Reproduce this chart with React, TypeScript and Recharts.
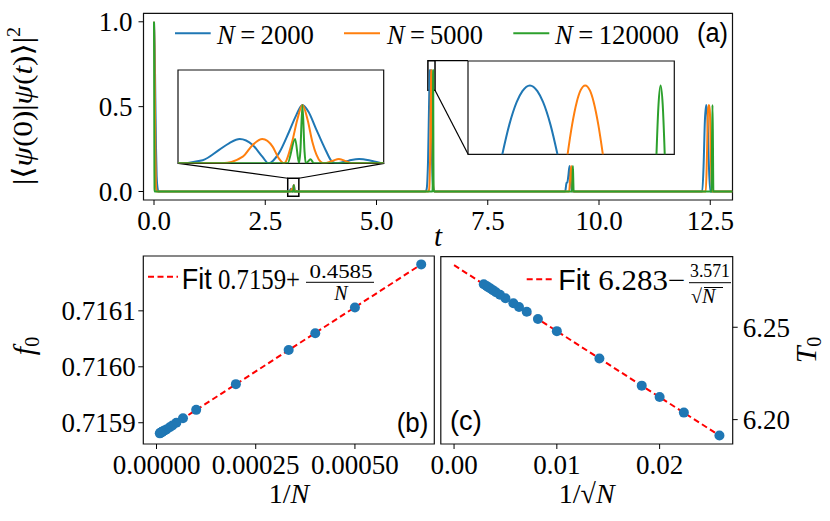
import { ComposedChart, Line, Scatter, XAxis, YAxis, ReferenceArea, ReferenceLine } from 'recharts'

// |<psi(0)|psi(t)>|^2, [t, value]
const n2000Curve: [number, number][] = [
  [0, 1], [0.015, 0.86], [0.03, 0.55], [0.045, 0.26], [0.06, 0.09], [0.08, 0.02], [0.1, 0],
  [3.02, 0], [3.044, 0.002], [3.06, 0.0086], [3.07, 0.013], [3.08, 0.0156], [3.0926, 0.0118],
  [3.102, 0.0043], [3.108, 0], [3.118, 0.0064], [3.128, 0.0203], [3.135, 0.031], [3.141, 0.0375],
  [3.147, 0.033], [3.154, 0.0225], [3.1635, 0.0086], [3.17, 0.001], [3.175, 0], [3.186, 0.0017],
  [3.196, 0.0028], [3.209, 0.0015], [3.22, 0],
  [6.1, 0], [6.123, 0.01], [6.143, 0.065], [6.158, 0.18], [6.173, 0.39], [6.1883, 0.62],
  [6.192, 0.661], [6.196, 0.693], [6.199, 0.708], [6.203, 0.716], [6.207, 0.708], [6.21, 0.693],
  [6.214, 0.661], [6.2177, 0.62], [6.233, 0.39], [6.248, 0.18], [6.263, 0.065], [6.283, 0.01], [6.306, 0],
  [9.24, 0], [9.27, 0.05], [9.29, 0.055], [9.31, 0.09], [9.338, 0.15], [9.36, 0.08], [9.385, 0.01], [9.4, 0],
  [12.32, 0], [12.35, 0.15], [12.38, 0.42], [12.41, 0.51], [12.44, 0.42], [12.47, 0.15], [12.5, 0],
  [13, 0],
]

const n5000Curve: [number, number][] = [
  [0, 1], [0.01, 0.86], [0.02, 0.52], [0.03, 0.24], [0.04, 0.07], [0.05, 0.015], [0.065, 0],
  [3.063, 0], [3.083, 0.0043], [3.0926, 0.0118], [3.102, 0.0156], [3.112, 0.0107], [3.118, 0.0032],
  [3.123, 0], [3.131, 0.0139], [3.136, 0.028], [3.141, 0.0375], [3.146, 0.028], [3.1506, 0.0139],
  [3.1587, 0.001], [3.162, 0], [3.17, 0.0015], [3.1765, 0.0028], [3.1845, 0.001], [3.189, 0],
  [6.165, 0], [6.1825, 0.01], [6.1945, 0.068], [6.2035, 0.18], [6.2135, 0.4], [6.2231, 0.62],
  [6.2255, 0.661], [6.228, 0.693], [6.23, 0.709], [6.2325, 0.716], [6.235, 0.709], [6.237, 0.693],
  [6.2395, 0.661], [6.2419, 0.62], [6.2515, 0.4], [6.2615, 0.18], [6.2705, 0.068], [6.2825, 0.01], [6.3, 0],
  [9.33, 0], [9.35, 0.07], [9.376, 0.15], [9.395, 0.07], [9.415, 0],
  [12.4, 0], [12.425, 0.2], [12.45, 0.48], [12.47, 0.51], [12.49, 0.48], [12.515, 0.2], [12.54, 0],
  [13, 0],
]

const n120000Curve: [number, number][] = [
  [0, 1], [0.003, 0.82], [0.006, 0.42], [0.009, 0.12], [0.012, 0.02], [0.016, 0],
  [3.1265, 0], [3.1339, 0.0156], [3.1377, 0], [3.139, 0.008], [3.141, 0.0375], [3.143, 0.008],
  [3.1442, 0], [3.149, 0.0026], [3.152, 0],
  [6.2567, 0], [6.2607, 0.01], [6.2637, 0.065], [6.2657, 0.17], [6.2682, 0.39], [6.2705, 0.62],
  [6.2716, 0.69], [6.2727, 0.716], [6.2738, 0.69], [6.2749, 0.62], [6.2772, 0.39], [6.2797, 0.17],
  [6.2817, 0.065], [6.2847, 0.01], [6.2887, 0],
  [9.395, 0], [9.405, 0.08], [9.413, 0.15], [9.421, 0.08], [9.43, 0],
  [12.53, 0], [12.54, 0.3], [12.55, 0.51], [12.56, 0.3], [12.57, 0],
  [13, 0],
]

const tTicks = [0, 2.5, 5, 7.5, 10, 12.5]
const fidTicks = [0, 0.5, 1]

// panel (b) and (c) data, N = 1500 ... 120000
const invN = [0.000667, 0.0005, 0.0004, 0.000333, 0.0002, 0.0001, 0.0000667, 0.00005, 0.00004,
  0.0000333, 0.000025, 0.00002, 0.0000167, 0.0000143, 0.0000125, 0.0000111, 0.00001, 0.0000083]
const f0Values = [0.716183, 0.716106, 0.71606, 0.71603, 0.715969, 0.715923, 0.715908, 0.7159, 0.715895,
  0.715892, 0.715888, 0.715886, 0.715885, 0.715884, 0.715883, 0.715882, 0.715882, 0.715881]
const invSqrtN = [0.02582, 0.02236, 0.02, 0.01826, 0.01414, 0.01, 0.00816, 0.00707, 0.00632,
  0.00577, 0.005, 0.00447, 0.00408, 0.00378, 0.00354, 0.00333, 0.00316, 0.00289]
const t0Values = [6.1914, 6.2038, 6.2122, 6.2184, 6.2331, 6.2479, 6.2545, 6.2584, 6.261,
  6.263, 6.2657, 6.2676, 6.269, 6.2701, 6.271, 6.2717, 6.2723, 6.2733]
const fitBX = [0, 0.000667]
const fitBY = [0.715877, 0.716183]
const fitCX = [0, 0.02582]
const fitCY = [6.2836, 6.1914]

const bTicksX = [0, 0.00025, 0.0005]
const bTicksY = [0.7159, 0.716, 0.7161]
const cTicksX = [0, 0.01, 0.02]
const cTicksY = [6.2, 6.25]

const SERIF = "'Liberation Serif', 'DejaVu Serif', serif"
const SANS = "'Liberation Sans', 'DejaVu Sans', sans-serif"
const BLUE = '#1f77b4'
const ORANGE = '#ff7f0e'
const GREEN = '#2ca02c'

const series = [
  { name: 'N2000', curve: n2000Curve, color: BLUE },
  { name: 'N5000', curve: n5000Curve, color: ORANGE },
  { name: 'N120000', curve: n120000Curve, color: GREEN },
]

const toPts = (c: [number, number][]) => c.map(([t, v]) => ({ t, v }))
const zipXY = (xs: number[], ys: number[]) => xs.map((x, i) => ({ x, y: ys[i] }))

const tickFont = { fontFamily: SERIF, fontSize: 27, fill: '#000' }
const tickLine = { stroke: '#000', strokeWidth: 1 }
const frame = { fill: 'none', stroke: '#111', strokeWidth: 1.2, fillOpacity: 0 }

const tDomain = [-0.236, 13.0]
const fidDomain = [-0.05, 1.05]

function MainPanel() {
  return (
    <div style={{ position: 'absolute', left: 0, top: 0 }}>
      <ComposedChart width={830} height={250} margin={{ top: 13.3, right: 97.5, bottom: 20, left: 83.5 }}>
        <XAxis type="number" dataKey="t" domain={tDomain} ticks={tTicks} allowDataOverflow interval={0}
          height={30} axisLine={false} tickLine={tickLine} tickSize={5} tickMargin={6} tick={tickFont}
          tickFormatter={(v: number) => v.toFixed(1)} />
        <YAxis type="number" domain={fidDomain} ticks={fidTicks} allowDataOverflow interval={0}
          width={60} axisLine={false} tickLine={tickLine} tickSize={5} tickMargin={6} tick={tickFont}
          tickFormatter={(v: number) => v.toFixed(1)} />
        <ReferenceArea x1={tDomain[0]} x2={tDomain[1]} y1={fidDomain[0]} y2={fidDomain[1]} {...frame} />
        {series.map((s) => (
          <Line key={s.name} data={toPts(s.curve)} dataKey="v" type="monotone" stroke={s.color}
            strokeWidth={2} dot={false} isAnimationActive={false} />
        ))}
        <ReferenceArea x1={3.005} x2={3.255} y1={-0.028} y2={0.078} fill="none" fillOpacity={0} stroke="#000" strokeWidth={1.5} />
        <ReferenceArea x1={6.155} x2={6.315} y1={0.597} y2={0.771} fill="none" fillOpacity={0} stroke="#000" strokeWidth={1.5} />
        <ReferenceLine segment={[{ x: 0.547, y: 0.166 }, { x: 3.005, y: 0.078 }]} stroke="#000" strokeWidth={1.2} ifOverflow="visible" />
        <ReferenceLine segment={[{ x: 5.173, y: 0.166 }, { x: 3.255, y: 0.078 }]} stroke="#000" strokeWidth={1.2} ifOverflow="visible" />
        <ReferenceLine segment={[{ x: 6.315, y: 0.771 }, { x: 7.056, y: 0.771 }]} stroke="#000" strokeWidth={1.2} ifOverflow="visible" />
        <ReferenceLine segment={[{ x: 6.315, y: 0.597 }, { x: 7.056, y: 0.221 }]} stroke="#000" strokeWidth={1.2} ifOverflow="visible" />
      </ComposedChart>
    </div>
  )
}

interface InsetProps {
  left: number
  top: number
  w: number
  h: number
  xDomain: number[]
  yDomain: number[]
  xTicks: number[]
  yTicks: number[]
}

function Inset({ left, top, w, h, xDomain, yDomain, xTicks, yTicks }: InsetProps) {
  const pad = 10
  return (
    <div style={{ position: 'absolute', left: left - pad, top: top - pad }}>
      <ComposedChart width={w + 2 * pad} height={h + 2 * pad} margin={{ top: pad, right: pad, bottom: pad, left: pad }}>
        <XAxis type="number" dataKey="t" domain={xDomain} ticks={xTicks} allowDataOverflow interval={0}
          height={0} axisLine={false} tickLine={tickLine} tickSize={3.5} tick={false} />
        <YAxis type="number" domain={yDomain} ticks={yTicks} allowDataOverflow interval={0}
          width={0} axisLine={false} tickLine={tickLine} tickSize={3.5} tick={false} />
        <ReferenceArea x1={xDomain[0]} x2={xDomain[1]} y1={yDomain[0]} y2={yDomain[1]} {...frame} />
        {series.map((s) => (
          <Line key={s.name} data={toPts(s.curve)} dataKey="v" type="monotone" stroke={s.color}
            strokeWidth={2} dot={false} isAnimationActive={false} />
        ))}
      </ComposedChart>
    </div>
  )
}

const dotShape = (p: any) => <circle cx={p.cx} cy={p.cy} r={5} fill={BLUE} />

function PanelB() {
  const xD = [-0.0000333, 0.0007]
  const yD = [0.715862, 0.716198]
  return (
    <div style={{ position: 'absolute', left: 0, top: 250 }}>
      <ComposedChart width={440} height={271} margin={{ top: 6, right: 5.7, bottom: 47, left: 83.3 }}>
        <XAxis type="number" dataKey="x" domain={xD} ticks={bTicksX} allowDataOverflow interval={0}
          height={30} axisLine={false} tickLine={tickLine} tickSize={5} tickMargin={6} tick={tickFont}
          tickFormatter={(v: number) => v.toFixed(5)} />
        <YAxis type="number" dataKey="y" domain={yD} ticks={bTicksY} allowDataOverflow interval={0}
          width={60} axisLine={false} tickLine={tickLine} tickSize={5} tickMargin={2.5} tick={tickFont}
          tickFormatter={(v: number) => v.toFixed(4)} />
        <ReferenceArea x1={xD[0]} x2={xD[1]} y1={yD[0]} y2={yD[1]} {...frame} />
        <Scatter data={zipXY(invN, f0Values)} dataKey="y" shape={dotShape} isAnimationActive={false} />
        <Line data={zipXY(fitBX, fitBY)} dataKey="y" type="linear" stroke="#ff0000" strokeWidth={2}
          strokeDasharray="6 3.5" dot={false} isAnimationActive={false} />
      </ComposedChart>
    </div>
  )
}

function PanelC() {
  const xD = [-0.00129, 0.02711]
  const yD = [6.1868, 6.2882]
  return (
    <div style={{ position: 'absolute', left: 400, top: 250 }}>
      <ComposedChart width={430} height={271} margin={{ top: 6.7, right: 37.3, bottom: 47, left: 40.8 }}>
        <XAxis type="number" dataKey="x" domain={xD} ticks={cTicksX} allowDataOverflow interval={0}
          height={30} axisLine={false} tickLine={tickLine} tickSize={5} tickMargin={6} tick={tickFont}
          tickFormatter={(v: number) => v.toFixed(2)} />
        <YAxis type="number" dataKey="y" orientation="right" domain={yD} ticks={cTicksY} allowDataOverflow interval={0}
          width={60} axisLine={false} tickLine={tickLine} tickSize={5} tickMargin={5} tick={tickFont}
          tickFormatter={(v: number) => v.toFixed(2)} />
        <ReferenceArea x1={xD[0]} x2={xD[1]} y1={yD[0]} y2={yD[1]} {...frame} />
        <Scatter data={zipXY(invSqrtN, t0Values)} dataKey="y" shape={dotShape} isAnimationActive={false} />
        <Line data={zipXY(fitCX, fitCY)} dataKey="y" type="linear" stroke="#ff0000" strokeWidth={2}
          strokeDasharray="6 3.5" dot={false} isAnimationActive={false} />
      </ComposedChart>
    </div>
  )
}

function Labels() {
  const it = { fontStyle: 'italic' as const }
  return (
    <svg width={830} height={521} style={{ position: 'absolute', left: 0, top: 0, pointerEvents: 'none' }}>
      {/* legend (a) */}
      <line x1={175} x2={210.7} y1={33.3} y2={33.3} stroke={BLUE} strokeWidth={2} />
      <line x1={344} x2={380} y1={33.3} y2={33.3} stroke={ORANGE} strokeWidth={2} />
      <line x1={513.3} x2={549.3} y1={33.3} y2={33.3} stroke={GREEN} strokeWidth={2} />
      <g fontFamily={SERIF} fontSize={28} fill="#000">
        <text x={217} y={43.8} textLength={97} lengthAdjust="spacingAndGlyphs"><tspan {...it}>N</tspan>{'\u2009=\u20092000'}</text>
        <text x={387} y={43.8} textLength={96} lengthAdjust="spacingAndGlyphs"><tspan {...it}>N</tspan>{'\u2009=\u20095000'}</text>
        <text x={555} y={43.8} textLength={124} lengthAdjust="spacingAndGlyphs"><tspan {...it}>N</tspan>{'\u2009=\u2009120000'}</text>
      </g>
      <text x={697} y={42} fontFamily={SANS} fontSize={27} textLength={31} lengthAdjust="spacingAndGlyphs">(a)</text>

      {/* axis titles (a) */}
      <text transform="translate(32,106) rotate(-90)" textAnchor="middle" fontFamily={SERIF} fontSize={28}
        textLength={158} lengthAdjust="spacingAndGlyphs">
        {'|\u27E8'}<tspan {...it}>ψ</tspan>{'(0)|'}<tspan {...it}>ψ</tspan>{'('}<tspan {...it}>t</tspan>{')\u27E9|'}
        <tspan fontSize={18} dy={-12}>2</tspan>
      </text>
      <text x={438} y={246} textAnchor="middle" fontFamily={SERIF} fontSize={29} {...it}>t</text>

      {/* legend (b) */}
      <line x1={148} x2={178} y1={276.7} y2={276.7} stroke="#ff0000" strokeWidth={2} strokeDasharray="6 3.5" />
      <text x={181.7} y={288.5} fontFamily={SANS} fontSize={29} textLength={30} lengthAdjust="spacingAndGlyphs">Fit</text>
      <text x={218} y={288.5} fontFamily={SERIF} fontSize={29} textLength={82} lengthAdjust="spacingAndGlyphs">0.7159+</text>
      <text x={341} y={278} textAnchor="middle" fontFamily={SERIF} fontSize={19} textLength={63} lengthAdjust="spacingAndGlyphs">0.4585</text>
      <line x1={306} x2={374} y1={282.3} y2={282.3} stroke="#000" strokeWidth={1} />
      <text x={341} y={300} textAnchor="middle" fontFamily={SERIF} fontSize={20} {...it}>N</text>
      <text x={396.7} y={432} fontFamily={SANS} fontSize={27} textLength={31.6} lengthAdjust="spacingAndGlyphs">(b)</text>

      {/* legend (c) */}
      <line x1={526.7} x2={555} y1={279.3} y2={279.3} stroke="#ff0000" strokeWidth={2} strokeDasharray="6 3.5" />
      <text x={558.3} y={289.5} fontFamily={SANS} fontSize={29} textLength={31.7} lengthAdjust="spacingAndGlyphs">Fit</text>
      <text x={598.3} y={289.5} fontFamily={SERIF} fontSize={29} textLength={87} lengthAdjust="spacingAndGlyphs">{'6.283\u2212'}</text>
      <text x={710} y={277.2} textAnchor="middle" fontFamily={SERIF} fontSize={19} textLength={40} lengthAdjust="spacingAndGlyphs">3.571</text>
      <line x1={689} x2={731} y1={282.7} y2={282.7} stroke="#000" strokeWidth={1} />
      <text x={691} y={303.3} fontFamily={SERIF} fontSize={20}>√<tspan {...it}>N</tspan></text>
      <line x1={704} x2={723} y1={287.5} y2={287.5} stroke="#000" strokeWidth={1} />
      <text x={450} y={430} fontFamily={SANS} fontSize={27} textLength={31.7} lengthAdjust="spacingAndGlyphs">(c)</text>

      {/* axis titles (b), (c) */}
      <text transform="translate(34,346) rotate(-90)" textAnchor="middle" fontFamily={SERIF} fontSize={30}>
        <tspan {...it}>f</tspan><tspan fontSize={20} dy={5}>0</tspan>
      </text>
      <text x={289} y={503} textAnchor="middle" fontFamily={SERIF} fontSize={28}>1/<tspan {...it}>N</tspan></text>
      <text x={586.7} y={503} textAnchor="middle" fontFamily={SERIF} fontSize={28}>1/√<tspan {...it}>N</tspan></text>
      <text transform="translate(816,350) rotate(-90)" textAnchor="middle" fontFamily={SERIF} fontSize={30}>
        <tspan {...it}>T</tspan><tspan fontSize={20} dy={5}>0</tspan>
      </text>
    </svg>
  )
}

export default function App() {
  return (
    <div style={{ position: 'absolute', left: 0, top: 0, width: 830, height: 521, background: '#fff', overflow: 'hidden' }}>
      <MainPanel />
      <Inset left={178.3} top={70} w={205.7} h={93.3} xDomain={[3.02, 3.22]} yDomain={[0, 0.06]}
        xTicks={[3.1, 3.2]} yTicks={[0.05]} />
      <Inset left={467.7} top={60.7} w={206.3} h={93.3} xDomain={[6.17, 6.28]} yDomain={[0.62, 0.75]}
        xTicks={[6.2, 6.25]} yTicks={[0.65, 0.7]} />
      <PanelB />
      <PanelC />
      <Labels />
    </div>
  )
}
